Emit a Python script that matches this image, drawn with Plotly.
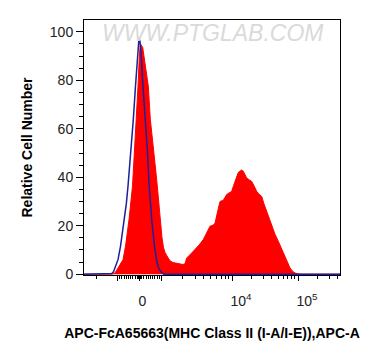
import numpy as np
import plotly.graph_objects as go

# ---------------- data (display channel units, 0..256) ----------------
sample_channel = [0, 28, 31, 34, 37, 39, 41.5, 45, 48.5, 50.5, 52.3, 54, 55.5, 56.5,
                  58.7, 60.5, 62.7, 64.3, 66.3, 68, 70, 71.7, 73.3, 76, 78, 79.5, 81,
                  83, 86, 89, 92, 96, 99, 101, 102.7, 106, 111, 115, 119.3, 123, 126,
                  129, 131, 133.3, 136, 139.3, 142.7, 145, 147.7, 149.5, 151, 152.7,
                  154.3, 156, 157.5, 159.3, 161, 162.7, 165, 167.7, 170, 172.7, 175,
                  177.7, 180, 182, 184.5, 187.7, 191, 194.3, 197.7, 201, 203.5, 206,
                  208.5, 211, 214, 218, 256]
sample_count = [0, 0, 0.5, 2.5, 4.5, 6, 11.5, 22.5, 36.3, 50, 63.8, 77.6, 91.4, 95,
                93.6, 88, 82.4, 77.6, 64, 58, 50, 43, 36.3, 22.5, 15, 11, 9,
                7.5, 5.5, 4.8, 4.5, 4.3, 4.0, 4.3, 6.7, 8, 10, 12, 14.3, 17.5, 19.8,
                20.2, 21, 25.3, 30, 30.5, 32.9, 33.5, 34.2, 36.5, 38.3, 40.5,
                42, 42.5, 43, 42.5, 41, 39.7, 39, 38.3, 36.5, 34.2, 33,
                32.1, 29, 26.7, 23.5, 19.8, 16.5, 13.6, 10.5, 7.4, 4.8, 2.6,
                1.2, 0.5, 0.1, 0, 0]

control_channel = [0, 24, 27.7, 29.5, 32, 34, 36.5, 38.5, 40.5, 42.3, 44, 47, 49.3,
                   51.5, 53.7, 55, 56, 57, 59, 61.5, 63.5, 65.2, 66.5, 67.7, 70.5,
                   73, 75, 77, 80, 256]
control_count = [0, 0, 0.3, 1, 3.5, 6, 11.5, 17, 22.5, 29, 36.3, 50, 63.8,
                 77.6, 91.4, 97.6, 96, 91.4, 77.6, 63.8, 50, 36.3, 29, 22.5, 11.5,
                 4.7, 2.2, 1, 0, 0]

y_ticks = [0, 20, 40, 60, 80, 100]
x_major_values = [-1e3, 0, 1e4, 1e5, 1e3]
x_label_values = [0, 1e4, 1e5]
x_label_text = ["0", "10<sup>4</sup>", "10<sup>5</sup>"]

x_title = "APC-FcA65663(MHC Class II (I-A/I-E)),APC-A"
y_title = "Relative Cell Number"
watermark = "WWW.PTGLAB.COM"


# ---------------- logicle-like display transform ----------------
ZERO_POS = 55.5
LIN_WIDTH = 22.0          # display units from 0 to 1e3
LOG_ANCHORS = ([3, 4, 5, 6], [77.5, 148.0, 214.0, 280.0])


def disp(v):
    a = abs(v)
    if a <= 1e3:
        d = a / 1e3 * LIN_WIDTH
    else:
        d = np.interp(np.log10(a), *LOG_ANCHORS) - ZERO_POS
    return ZERO_POS + (d if v >= 0 else -d)


minor_values = []
for dec in [10, 100, 1000, 10000, 100000]:
    for k in range(2 if dec > 1000 else 1, 10):
        minor_values.append(k * dec)
        minor_values.append(-k * dec)
minor_values = [m for m in minor_values if abs(m) not in (1e3, 1e4, 1e5)]
minor_pos = [disp(m) for m in minor_values if 0 <= disp(m) <= 256]

label_shift = [3, 9, 9]
label_pos = [disp(v) + s for v, s in zip(x_label_values, label_shift)]

fig = go.Figure()
fig.add_trace(go.Scatter(
    x=sample_channel, y=sample_count, mode="lines", fill="tozeroy",
    fillcolor="#ff0000", line=dict(color="#ff0000", width=1),
    hoverinfo="skip", showlegend=False))
fig.add_trace(go.Scatter(
    x=control_channel, y=control_count, mode="lines",
    line=dict(color="#1f1f9a", width=1.5),
    hoverinfo="skip", showlegend=False))
# invisible trace to activate label axis
fig.add_trace(go.Scatter(x=[0], y=[0], xaxis="x2", mode="markers",
                         marker=dict(opacity=0), hoverinfo="skip", showlegend=False))

font = "Liberation Sans, Arial, sans-serif"
# the page body adds an 8px offset, so the figure is 8px smaller
fig.update_layout(
    width=373, height=348,
    margin=dict(l=76, r=41, t=12, b=81, autoexpand=False),
    paper_bgcolor="white", plot_bgcolor="white",
    font=dict(family=font, size=14, color="#222222"),
    xaxis=dict(
        range=[0, 256], showgrid=False, zeroline=False, automargin=False,
        showline=True, linecolor="black", linewidth=1, mirror=True,
        tickmode="array", tickvals=[disp(v) for v in x_major_values],
        showticklabels=False, ticks="outside", ticklen=5, tickcolor="black",
        minor=dict(tickmode="array", tickvals=minor_pos, ticks="outside",
                   ticklen=3, tickcolor="black", showgrid=False),
        title=dict(text="<b>" + x_title + "</b>", font=dict(size=14, color="black"),
                   standoff=48),
    ),
    xaxis2=dict(
        range=[0, 256], overlaying="x", side="bottom", anchor="y",
        showgrid=False, zeroline=False, showline=False, automargin=False,
        tickmode="array", tickvals=label_pos, ticktext=x_label_text,
        ticks="", tickfont=dict(size=14, color="#222222"),
        ticklabelstandoff=16,
    ),
    yaxis=dict(
        range=[-0.33, 104.9], showgrid=False, zeroline=False, automargin=False,
        showline=True, linecolor="black", linewidth=1, mirror=True,
        tickmode="array", tickvals=y_ticks, ticks="outside", ticklen=7,
        tickcolor="black",
        minor=dict(dtick=5, ticks="outside", ticklen=4, tickcolor="black",
                   showgrid=False),
        tickfont=dict(size=14, color="#222222"),
        title=dict(text="<b>" + y_title + "</b>", font=dict(size=14, color="black"),
                   standoff=13),
    ),
    annotations=[dict(
        text="<i>" + watermark + "</i>", xref="paper", yref="paper",
        x=0.504, y=0.949, xanchor="center", yanchor="middle", showarrow=False,
        font=dict(size=23, color="#dadada", family=font))],
)

fig.write_html("out.html")
